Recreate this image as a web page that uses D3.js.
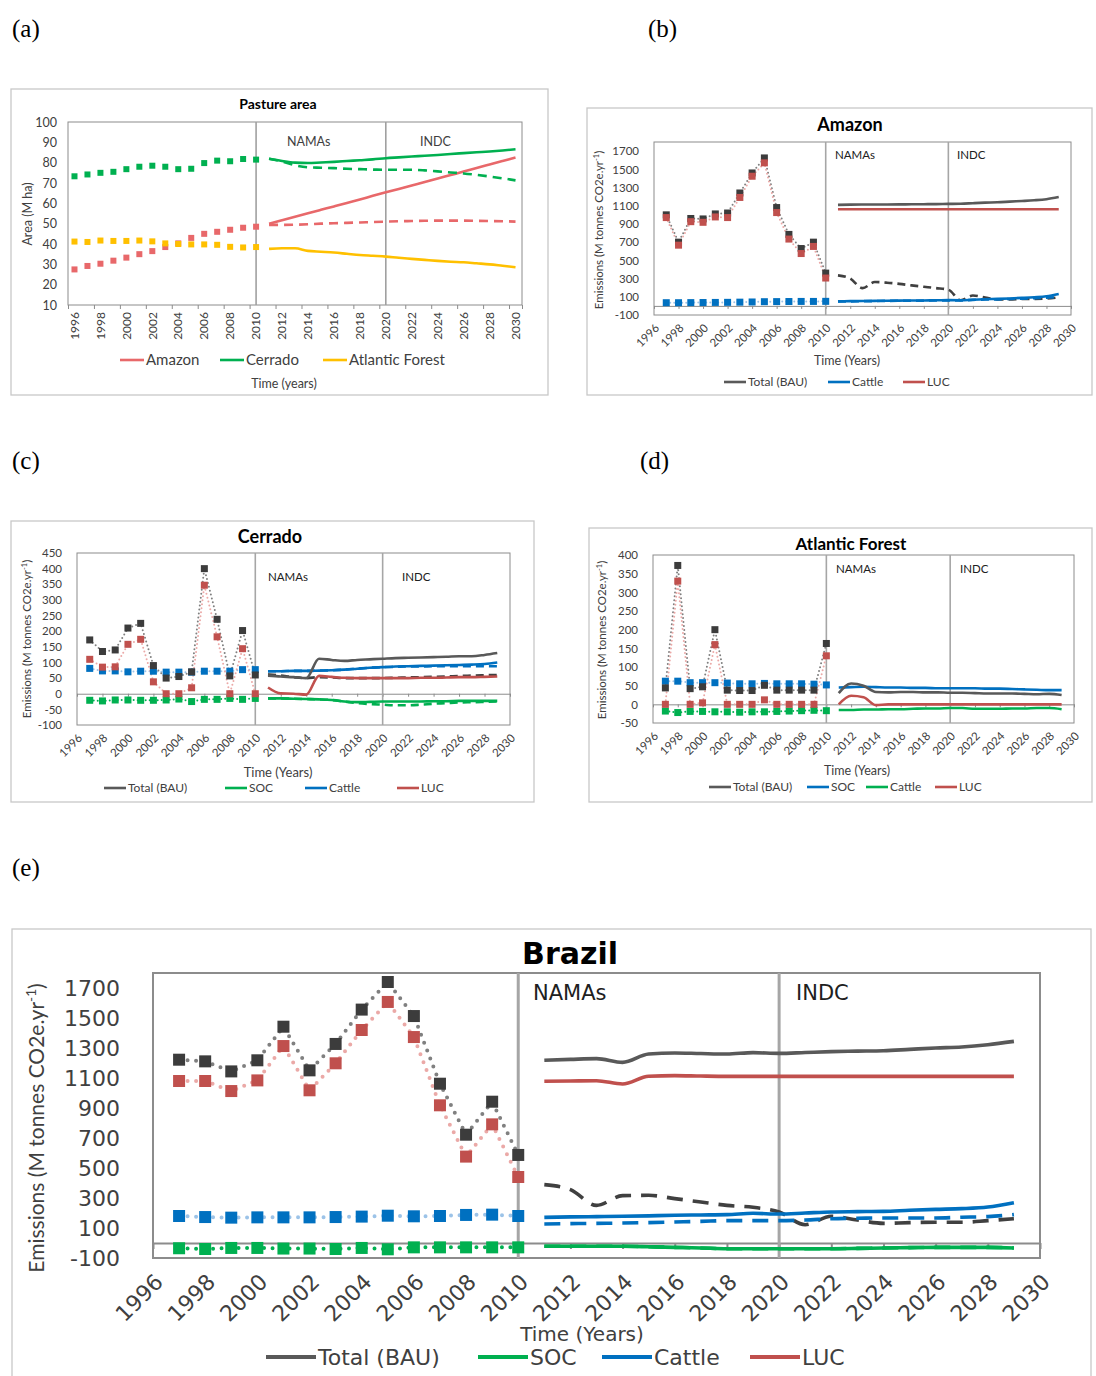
<!DOCTYPE html>
<html>
<head>
<meta charset="utf-8">
<script src="https://cdn.jsdelivr.net/npm/d3@7"></script>
<style>
body { margin: 0; background: #fff; }
svg { display: block; }
</style>
</head>
<body>
<svg id="fig" width="1096" height="1376"></svg>
<script>
// ---------- data ----------
var yearTicks = [1996, 1998, 2000, 2002, 2004, 2006, 2008, 2010, 2012, 2014, 2016, 2018, 2020, 2022, 2024, 2026, 2028, 2030];

// (a) pasture area, M ha
var areaHistYears = [1996, 1997, 1998, 1999, 2000, 2001, 2002, 2003, 2004, 2005, 2006, 2007, 2008, 2009, 2010];
var areaProjYears = [2011, 2012, 2013, 2014, 2015, 2016, 2017, 2018, 2019, 2020, 2021, 2022, 2023, 2024, 2025, 2026, 2027, 2028, 2029, 2030];
var areaTicks = [10, 20, 30, 40, 50, 60, 70, 80, 90, 100];
var amazonAreaHist = [27.5, 29.2, 30.3, 31.8, 33.3, 35, 36.5, 38.5, 40.3, 43, 45, 46, 47, 48, 48.5];
var amazonAreaSolid = [50, 51.7, 53.4, 55.1, 56.8, 58.5, 60.2, 61.9, 63.7, 65.4, 67.1, 68.8, 70.5, 72.2, 73.9, 75.6, 77.4, 79.1, 80.8, 82.5];
var amazonAreaDashed = [49.4, 49.4, 49.5, 49.7, 50, 50.2, 50.4, 50.6, 50.8, 51, 51.2, 51.3, 51.4, 51.5, 51.5, 51.5, 51.4, 51.3, 51.2, 51];
var cerradoAreaHist = [73.3, 74.2, 75, 75.5, 76.8, 78, 78.5, 78, 76.8, 77, 79.8, 81, 80.7, 81.8, 81.5];
var cerradoAreaSolid = [81.9, 80.8, 80, 79.8, 80.1, 80.4, 80.8, 81.2, 81.6, 82.2, 82.6, 83, 83.4, 83.8, 84.3, 84.7, 85.1, 85.5, 86, 86.6];
var cerradoAreaDashed = [81.9, 80.6, 78.7, 77.7, 77.5, 77.3, 77, 76.8, 76.6, 76.5, 76.5, 76.5, 76.2, 75.7, 75.2, 74.7, 74, 73.2, 72.3, 71.3];
var atlanticAreaHist = [41.2, 41, 41.7, 41.5, 41.5, 41.7, 41.3, 40.3, 40, 39.8, 39.8, 39.6, 38.6, 38.3, 38.5];
var atlanticAreaSolid = [37.6, 37.9, 37.9, 36.6, 36.2, 35.8, 35.2, 34.6, 34.2, 33.8, 33.2, 32.7, 32.2, 31.7, 31.3, 31, 30.5, 30, 29.3, 28.6];

// emissions panels, M tonnes CO2e per year
var emHistYears = [1997, 1998, 1999, 2000, 2001, 2002, 2003, 2004, 2005, 2006, 2007, 2008, 2009, 2010];
var emProjYears = [2011, 2012, 2013, 2014, 2015, 2016, 2017, 2018, 2019, 2020, 2021, 2022, 2023, 2024, 2025, 2026, 2027, 2028, 2029];

// (b) Amazon
var amzTotalHist = [1000, 700, 960, 955, 1010, 1020, 1240, 1460, 1625, 1080, 785, 630, 700, 360];
var amzLucHist = [970, 667, 925, 918, 977, 970, 1191, 1424, 1571, 1025, 734, 575, 653, 306];
var amzCattleHist = [35, 35, 36, 37, 38, 39, 41, 43, 46, 47, 48, 49, 49, 50];
var amzTotalBau = [1110, 1112, 1113, 1114, 1114, 1115, 1116, 1117, 1118, 1120, 1122, 1128, 1134, 1138, 1145, 1152, 1160, 1172, 1195];
var amzLucBau = [1062, 1062, 1062, 1062, 1062, 1062, 1062, 1062, 1062, 1062, 1062, 1062, 1062, 1062, 1062, 1062, 1062, 1062, 1062];
var amzCattleBau = [50, 52, 54, 55, 57, 58, 59, 60, 62, 63, 62, 68, 73, 77, 82, 88, 95, 105, 130];
var amzTotalMit = [335, 300, 195, 262, 255, 242, 225, 210, 195, 178, 62, 114, 92, 72, 72, 76, 77, 80, 95];
var amzCattleMit = [48, 50, 52, 53, 55, 56, 57, 58, 60, 60, 60, 66, 70, 72, 76, 80, 84, 90, 100];

// (c) Cerrado
var cerTotalHist = [172, 135, 140, 210, 225, 90, 50, 55, 70, 400, 238, 57, 202, 60];
var cerLucHist = [110, 85, 86, 158, 174, 38, 0, 0, 19, 347, 182, 0, 144, 0];
var cerCattleHist = [81, 73, 73, 70, 72, 72, 69, 69, 69, 72, 72, 72, 77, 77];
var cerSocHist = [-21, -23, -20, -20, -21, -21, -20, -17, -25, -18, -18, -15, -18, -15];
var cerTotalBau = [58, 55, 53, 50, 112, 108, 105, 108, 110, 112, 114, 115, 116, 117, 118, 120, 120, 124, 130];
var cerLucBau = [20, 1, 0, -3, 57, 54, 51, 50, 50, 50, 50, 50, 51, 51, 52, 53, 53, 54, 55];
var cerCattleBau = [72, 72, 73, 73, 74, 75, 77, 80, 83, 85, 87, 88, 89, 90, 91, 92, 93, 95, 100];
var cerSocBau = [-15, -15, -16, -17, -18, -20, -25, -27, -26, -25, -25, -25, -25, -24, -24, -23, -23, -23, -23];
var cerTotalMit = [62, 58, 53, 50, 53, 52, 50, 50, 50, 50, 51, 52, 53, 54, 55, 57, 58, 59, 60];
var cerCattleMit = [72, 72, 73, 73, 74, 75, 77, 80, 83, 85, 86, 87, 87, 88, 88, 88, 88, 88, 88];
var cerSocMit = [-15, -15, -16, -17, -18, -20, -25, -30, -33, -35, -37, -37, -35, -32, -30, -28, -27, -26, -25];

// (d) Atlantic Forest (legend of the source: SOC drawn blue, Cattle drawn green)
var afTotalHist = [44, 372, 42, 47, 200, 38, 37, 37, 51, 38, 38, 38, 38, 163];
var afLucHist = [0, 330, 0, 4, 160, 0, 0, 0, 12, 0, 0, 0, 0, 130];
var afSocHist = [62, 62, 58, 58, 58, 57, 55, 55, 56, 55, 55, 55, 54, 52];
var afCattleHist = [-18, -22, -19, -19, -20, -20, -21, -20, -20, -19, -18, -17, -16, -17];
var afTotalBau = [30, 56, 50, 33, 32, 33, 33, 32, 32, 31, 31, 30, 29, 29, 29, 28, 27, 28, 25];
var afLucBau = [0, 23, 19, -2, 0, 0, 0, 0, 0, 0, 0, 0, 0, 0, 0, 0, 0, 0, 0];
var afSocBau = [45, 46, 47, 46, 45, 45, 44, 44, 43, 43, 43, 43, 42, 42, 41, 40, 39, 38, 38];
var afCattleBau = [-15, -15, -14, -14, -13, -13, -12, -11, -11, -10, -10, -12, -12, -12, -11, -11, -10, -10, -13];

// (e) Brazil
var brTotalHist = [1222, 1211, 1144, 1218, 1442, 1151, 1327, 1556, 1740, 1513, 1062, 722, 942, 587];
var brLucHist = [1080, 1080, 1013, 1084, 1313, 1018, 1198, 1420, 1607, 1373, 918, 576, 791, 440];
var brCattleHist = [180, 173, 169, 171, 171, 171, 173, 176, 182, 178, 180, 187, 189, 180];
var brSocHist = [-35, -40, -33, -33, -37, -37, -40, -33, -42, -29, -29, -29, -29, -29];
var brTotalBau = [1218, 1224, 1229, 1204, 1260, 1267, 1263, 1260, 1269, 1264, 1270, 1276, 1279, 1282, 1291, 1300, 1307, 1322, 1344];
var brLucBau = [1078, 1080, 1082, 1060, 1112, 1116, 1113, 1111, 1111, 1111, 1111, 1111, 1111, 1111, 1111, 1111, 1111, 1111, 1111];
var brCattleBau = [171, 174, 176, 178, 181, 185, 187, 189, 198, 193, 200, 207, 209, 211, 218, 224, 229, 240, 269];
var brSocBau = [-22, -22, -22, -22, -25, -29, -33, -38, -38, -38, -38, -38, -36, -33, -31, -29, -29, -29, -33];
var brTotalMit = [389, 356, 251, 316, 318, 296, 273, 251, 238, 207, 122, 178, 153, 131, 136, 138, 138, 149, 162];
var brCattleMit = [127, 129, 131, 133, 136, 140, 144, 149, 149, 149, 153, 162, 165, 167, 167, 167, 172, 176, 189];

// ---------- drawing ----------
var svg = d3.select("#fig");
var FONT = "Lato, 'Open Sans', sans-serif";
var FONT_E = "'DejaVu Sans', Verdana, sans-serif";
var GREY = "#404040";

var C = {
    total: "#595959", totalMark: "#3c3c3c", totalDot: "#808080",
    luc: "#c0504d", lucDot: "#eba9a7",
    cattle: "#0070c0", cattleDot: "#9cc3e8",
    soc: "#00b050", socDot: "#00b050"
};

// plain labels: no thousands comma, ascii hyphen for negatives
function plain(d) { return String(d); }

function pairs(years, vals) {
    return years.map(function(yr, i) { return [yr, vals[i]]; });
}

function panelLetter(txt, x, y) {
    svg.append("text").attr("x", x).attr("y", y)
        .attr("font-family", "'Liberation Serif', 'Times New Roman', serif")
        .attr("font-size", 25).attr("fill", "#000").text(txt);
}

function frame(g, f) {
    g.append("rect").attr("x", f.x).attr("y", f.y).attr("width", f.w).attr("height", f.h)
        .attr("fill", "#fff").attr("stroke", "#c8c8c8").attr("stroke-width", 1.3);
}

function legend(g, items, y, len, lw, fs, font) {
    items.forEach(function(it) {
        g.append("line").attr("x1", it.x).attr("x2", it.x + len).attr("y1", y).attr("y2", y)
            .attr("stroke", it.color).attr("stroke-width", lw);
        g.append("text").attr("x", it.x + len + 2).attr("y", y).attr("dy", "0.35em")
            .attr("font-family", font).attr("font-size", fs).attr("fill", GREY).text(it.label);
    });
}

function yTitle(g, t, x, y, fs, font) {
    var txt = g.append("text").attr("transform", "translate(" + x + "," + y + ") rotate(-90)")
        .attr("text-anchor", "middle").attr("dy", "0.35em")
        .attr("font-family", font).attr("font-size", fs).attr("fill", GREY);
    if (t.sup) {
        txt.append("tspan").text(t.text);
        txt.append("tspan").attr("baseline-shift", "super").attr("font-size", fs * 0.65).text(t.sup);
        txt.append("tspan").text(t.after);
    } else {
        txt.text(t.text);
    }
}

// ---- panel (a) ----
function pasturePanel() {
    var g = svg.append("g");
    var plot = {l: 68, t: 122, r: 522, b: 305};
    frame(g, {x: 11, y: 89, w: 537, h: 306});

    var x = d3.scaleLinear().domain([1995.5, 2030.5]).range([plot.l, plot.r]);
    var y = d3.scaleLinear().domain([10, 100]).range([plot.b, plot.t]);

    g.append("text").attr("x", 278).attr("y", 109).attr("text-anchor", "middle")
        .attr("font-family", FONT).attr("font-weight", "bold").attr("font-size", 14).text("Pasture area");

    g.append("rect").attr("x", plot.l).attr("y", plot.t).attr("width", plot.r - plot.l)
        .attr("height", plot.b - plot.t).attr("fill", "none").attr("stroke", "#8c8c8c").attr("stroke-width", 1);

    var ya = g.append("g").attr("transform", "translate(" + plot.l + ",0)")
        .call(d3.axisLeft(y).tickValues(areaTicks).tickSize(0).tickPadding(11).tickFormat(plain));
    ya.select(".domain").remove();
    ya.selectAll("text").attr("font-family", FONT).attr("font-size", 12.5).attr("fill", GREY);

    var tickPos = yearTicks.map(function(d) { return d - 0.5; }).concat([2030.5]);
    var xt = g.append("g").attr("transform", "translate(0," + plot.b + ")")
        .call(d3.axisBottom(x).tickValues(tickPos).tickSize(4).tickSizeOuter(0).tickFormat(""));
    xt.select(".domain").remove();
    xt.selectAll("line").attr("stroke", "#8c8c8c");

    g.selectAll(".xla").data(yearTicks).enter().append("text")
        .attr("transform", function(d) { return "translate(" + x(d) + "," + (plot.b + 7) + ") rotate(-90)"; })
        .attr("text-anchor", "end").attr("dy", "0.35em")
        .attr("font-family", FONT).attr("font-size", 12).attr("fill", GREY).text(function(d) { return d; });

    [2010, 2020].forEach(function(yr) {
        g.append("line").attr("x1", x(yr)).attr("x2", x(yr)).attr("y1", plot.t).attr("y2", plot.b)
            .attr("stroke", "#a0a0a0").attr("stroke-width", 1.6);
    });
    g.append("text").attr("x", 287).attr("y", 146).attr("font-family", FONT).attr("font-size", 12.5).attr("fill", GREY).text("NAMAs");
    g.append("text").attr("x", 420).attr("y", 146).attr("font-family", FONT).attr("font-size", 12.5).attr("fill", GREY).text("INDC");

    var series = [
        {hist: amazonAreaHist, solid: amazonAreaSolid, dashed: amazonAreaDashed, color: "#e8686a"},
        {hist: atlanticAreaHist, solid: atlanticAreaSolid, dashed: null, color: "#ffc000"},
        {hist: cerradoAreaHist, solid: cerradoAreaSolid, dashed: cerradoAreaDashed, color: "#00b050"}
    ];
    var line = d3.line().x(function(d) { return x(d[0]); }).y(function(d) { return y(d[1]); })
        .curve(d3.curveMonotoneX);

    series.forEach(function(s) {
        if (s.dashed) {
            g.append("path").datum(pairs(areaProjYears, s.dashed)).attr("d", line)
                .attr("fill", "none").attr("stroke", s.color).attr("stroke-width", 2.6)
                .attr("stroke-dasharray", "9,6");
        }
        g.append("path").datum(pairs(areaProjYears, s.solid)).attr("d", line)
            .attr("fill", "none").attr("stroke", s.color).attr("stroke-width", 2.6);
        g.selectAll(null).data(pairs(areaHistYears, s.hist)).enter().append("rect")
            .attr("x", function(d) { return x(d[0]) - 3; }).attr("y", function(d) { return y(d[1]) - 3; })
            .attr("width", 6).attr("height", 6).attr("fill", s.color);
    });

    legend(g, [
        {label: "Amazon", color: "#e8686a", x: 120},
        {label: "Cerrado", color: "#00b050", x: 220},
        {label: "Atlantic Forest", color: "#ffc000", x: 323}
    ], 360, 24, 2.6, 15, FONT);

    g.append("text").attr("x", 284).attr("y", 388).attr("text-anchor", "middle")
        .attr("font-family", FONT).attr("font-size", 12.5).attr("fill", GREY).text("Time (years)");

    yTitle(g, {text: "Area (M ha)"}, 28, 214, 12.5, FONT);
}

// ---- emissions panels (b)-(e) ----
function emissionsPanel(p) {
    var g = svg.append("g");
    var plot = p.plot;
    frame(g, p.frame);

    var x = d3.scaleLinear().domain([1996, 2030]).range([plot.l, plot.r]);
    var y = d3.scaleLinear().domain(p.yDomain).range([plot.b, plot.t]);

    g.append("text").attr("x", p.title.x).attr("y", p.title.y).attr("text-anchor", "middle")
        .attr("font-family", p.titleFont).attr("font-weight", "bold").attr("font-size", p.title.size)
        .text(p.title.text);

    g.append("rect").attr("x", plot.l).attr("y", plot.t).attr("width", plot.r - plot.l)
        .attr("height", plot.b - plot.t).attr("fill", "none").attr("stroke", "#8c8c8c")
        .attr("stroke-width", p.borderW);

    var ya = g.append("g").attr("transform", "translate(" + plot.l + ",0)")
        .call(d3.axisLeft(y).tickValues(p.yTicks).tickSize(0).tickPadding(p.yPad).tickFormat(plain));
    ya.select(".domain").remove();
    ya.selectAll("text").attr("font-family", p.tickFont).attr("font-size", p.tickSize).attr("fill", GREY);

    // axis line at zero
    var za = g.append("g").attr("transform", "translate(0," + y(0) + ")")
        .call(d3.axisBottom(x).tickValues(yearTicks).tickSize(p.zeroTick).tickSizeOuter(0).tickFormat(""));
    za.select(".domain").attr("stroke", "#8c8c8c").attr("stroke-width", p.borderW);
    za.selectAll("line").attr("stroke", "#8c8c8c").attr("stroke-width", p.borderW);

    g.selectAll(".xl").data(yearTicks).enter().append("text")
        .attr("transform", function(d) {
            return "translate(" + (x(d) + p.xlOff[0]) + "," + (plot.b + p.xlOff[1]) + ") rotate(-45)";
        })
        .attr("text-anchor", "end").attr("dy", "0.35em")
        .attr("font-family", p.tickFont).attr("font-size", p.tickSize).attr("fill", GREY)
        .text(function(d) { return d; });

    [2010, 2020].forEach(function(yr) {
        g.append("line").attr("x1", x(yr)).attr("x2", x(yr)).attr("y1", plot.t).attr("y2", plot.b)
            .attr("stroke", "#a6a6a6").attr("stroke-width", p.vlineW);
    });
    g.append("text").attr("x", p.namas[0]).attr("y", p.namas[1]).attr("font-family", p.tickFont)
        .attr("font-size", p.noteSize).attr("fill", "#202020").text("NAMAs");
    g.append("text").attr("x", p.indc[0]).attr("y", p.indc[1]).attr("font-family", p.tickFont)
        .attr("font-size", p.noteSize).attr("fill", "#202020").text("INDC");

    var line = d3.line().x(function(d) { return x(d[0]); }).y(function(d) { return y(d[1]); })
        .curve(d3.curveMonotoneX);
    var dotted = d3.line().x(function(d) { return x(d[0]); }).y(function(d) { return y(d[1]); });

    // projections
    p.proj.forEach(function(s) {
        g.append("path").datum(pairs(emProjYears, s.values)).attr("d", line)
            .attr("fill", "none").attr("stroke", s.color).attr("stroke-width", p.lineW)
            .attr("stroke-dasharray", s.dash ? p.dash : null);
    });

    // historical dotted connectors then square markers
    p.hist.forEach(function(s) {
        g.append("path").datum(pairs(emHistYears, s.values)).attr("d", dotted)
            .attr("fill", "none").attr("stroke", s.dot).attr("stroke-width", p.dotW)
            .attr("stroke-linecap", "round").attr("stroke-dasharray", p.dotDash);
    });
    p.hist.forEach(function(s) {
        g.selectAll(null).data(pairs(emHistYears, s.values)).enter().append("rect")
            .attr("x", function(d) { return x(d[0]) - p.mark / 2; })
            .attr("y", function(d) { return y(d[1]) - p.mark / 2; })
            .attr("width", p.mark).attr("height", p.mark).attr("fill", s.color);
    });

    legend(g, p.legend, p.legendY, p.legendLen, p.legendW, p.legendSize, p.tickFont);

    g.append("text").attr("x", p.xTitle[0]).attr("y", p.xTitle[1]).attr("text-anchor", "middle")
        .attr("font-family", p.tickFont).attr("font-size", p.xTitle[2]).attr("fill", GREY).text("Time (Years)");

    yTitle(g, {text: "Emissions (M tonnes CO2e.yr", sup: "-1", after: ")"}, p.yTitle[0], p.yTitle[1], p.yTitle[2], p.yTitleFont);
}

var smallStyle = {
    titleFont: FONT, tickFont: FONT, yTitleFont: FONT, tickSize: 11.5, noteSize: 11.5, borderW: 1,
    zeroTick: 3, vlineW: 1.6, lineW: 2.6, dash: "8,5", dotW: 2, dotDash: "0,4", mark: 7,
    legendLen: 22, legendW: 2.6, legendSize: 12, xlOff: [3, 11]
};

function withStyle(base, extra) {
    return Object.assign({}, base, extra);
}

panelLetter("(a)", 12, 37);
panelLetter("(b)", 648, 37);
panelLetter("(c)", 12, 469);
panelLetter("(d)", 640, 469);
panelLetter("(e)", 12, 876);

pasturePanel();

emissionsPanel(withStyle(smallStyle, {
    frame: {x: 587, y: 108, w: 505, h: 287},
    plot: {l: 654, t: 142, r: 1071, b: 315},
    yDomain: [-100, 1800], yTicks: [-100, 100, 300, 500, 700, 900, 1100, 1300, 1500, 1700], yPad: 15,
    title: {text: "Amazon", x: 850, y: 131, size: 18},
    namas: [835, 159], indc: [957, 159],
    proj: [
        {values: amzTotalMit, color: "#404040", dash: true},
        {values: amzCattleMit, color: C.cattle, dash: true},
        {values: amzCattleBau, color: C.cattle},
        {values: amzLucBau, color: C.luc},
        {values: amzTotalBau, color: C.total}
    ],
    hist: [
        {values: amzCattleHist, color: C.cattle, dot: C.cattleDot},
        {values: amzTotalHist, color: C.totalMark, dot: C.totalDot},
        {values: amzLucHist, color: C.luc, dot: C.lucDot}
    ],
    legendY: 382,
    legend: [
        {label: "Total (BAU)", color: C.total, x: 724},
        {label: "Cattle", color: C.cattle, x: 828},
        {label: "LUC", color: C.luc, x: 903}
    ],
    xTitle: [847, 365, 12.5], yTitle: [599, 230, 11.5]
}));

emissionsPanel(withStyle(smallStyle, {
    frame: {x: 11, y: 521, w: 523, h: 281},
    plot: {l: 77, t: 553, r: 510, b: 725},
    yDomain: [-100, 450], yTicks: [-100, -50, 0, 50, 100, 150, 200, 250, 300, 350, 400, 450], yPad: 15,
    title: {text: "Cerrado", x: 270, y: 543, size: 18},
    namas: [268, 581], indc: [402, 581],
    proj: [
        {values: cerSocMit, color: C.soc, dash: true},
        {values: cerSocBau, color: C.soc},
        {values: cerTotalMit, color: "#404040", dash: true},
        {values: cerLucBau, color: C.luc},
        {values: cerCattleMit, color: C.cattle, dash: true},
        {values: cerCattleBau, color: C.cattle},
        {values: cerTotalBau, color: C.total}
    ],
    hist: [
        {values: cerSocHist, color: C.soc, dot: C.socDot},
        {values: cerCattleHist, color: C.cattle, dot: C.cattleDot},
        {values: cerTotalHist, color: C.totalMark, dot: C.totalDot},
        {values: cerLucHist, color: C.luc, dot: C.lucDot}
    ],
    legendY: 788,
    legend: [
        {label: "Total (BAU)", color: C.total, x: 104},
        {label: "SOC", color: C.soc, x: 225},
        {label: "Cattle", color: C.cattle, x: 305},
        {label: "LUC", color: C.luc, x: 397}
    ],
    xTitle: [278, 777, 13], yTitle: [27, 639, 11.5]
}));

emissionsPanel(withStyle(smallStyle, {
    frame: {x: 589, y: 528, w: 503, h: 274},
    plot: {l: 653, t: 555, r: 1074, b: 723},
    yDomain: [-50, 400], yTicks: [-50, 0, 50, 100, 150, 200, 250, 300, 350, 400], yPad: 15,
    title: {text: "Atlantic Forest", x: 851, y: 550, size: 17},
    namas: [836, 573], indc: [960, 573],
    proj: [
        {values: afCattleBau, color: C.soc},
        {values: afLucBau, color: C.luc},
        {values: afSocBau, color: C.cattle},
        {values: afTotalBau, color: C.total}
    ],
    hist: [
        {values: afCattleHist, color: C.soc, dot: C.socDot},
        {values: afSocHist, color: C.cattle, dot: C.cattleDot},
        {values: afTotalHist, color: C.totalMark, dot: C.totalDot},
        {values: afLucHist, color: C.luc, dot: C.lucDot}
    ],
    legendY: 787,
    legend: [
        {label: "Total (BAU)", color: C.total, x: 709},
        {label: "SOC", color: C.cattle, x: 807},
        {label: "Cattle", color: C.soc, x: 866},
        {label: "LUC", color: C.luc, x: 935}
    ],
    xTitle: [857, 775, 12.5], yTitle: [602, 640, 11.5]
}));

emissionsPanel({
    titleFont: FONT_E, tickFont: FONT_E, yTitleFont: FONT, tickSize: 22, noteSize: 21, borderW: 2,
    zeroTick: 6, vlineW: 3, lineW: 3.6, dash: "16,10", dotW: 4, dotDash: "0,8.5", mark: 12,
    legendLen: 50, legendW: 4, legendSize: 22, xlOff: [6, 20],
    frame: {x: 12, y: 929, w: 1079, h: 470},
    plot: {l: 153, t: 973, r: 1040, b: 1258},
    yDomain: [-100, 1800], yTicks: [-100, 100, 300, 500, 700, 900, 1100, 1300, 1500, 1700], yPad: 33,
    title: {text: "Brazil", x: 570, y: 964, size: 30},
    namas: [533, 1000], indc: [796, 1000],
    proj: [
        {values: brSocBau, color: C.soc},
        {values: brSocBau, color: C.soc, dash: true},
        {values: brTotalMit, color: "#404040", dash: true},
        {values: brCattleMit, color: C.cattle, dash: true},
        {values: brCattleBau, color: C.cattle},
        {values: brLucBau, color: C.luc},
        {values: brTotalBau, color: C.total}
    ],
    hist: [
        {values: brSocHist, color: C.soc, dot: C.socDot},
        {values: brCattleHist, color: C.cattle, dot: C.cattleDot},
        {values: brTotalHist, color: C.totalMark, dot: C.totalDot},
        {values: brLucHist, color: C.luc, dot: C.lucDot}
    ],
    legendY: 1357,
    legend: [
        {label: "Total (BAU)", color: C.total, x: 266},
        {label: "SOC", color: C.soc, x: 478},
        {label: "Cattle", color: C.cattle, x: 602},
        {label: "LUC", color: C.luc, x: 750}
    ],
    xTitle: [582, 1341, 20], yTitle: [37, 1128, 21]
});
</script>
</body>
</html>
